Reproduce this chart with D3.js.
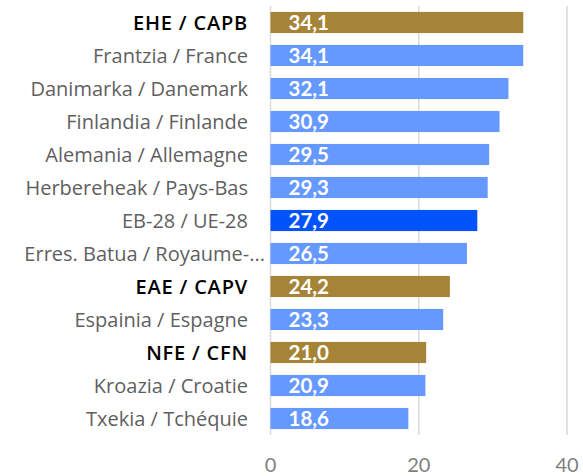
<!DOCTYPE html>
<html><head><meta charset="utf-8">
<script src="https://cdn.jsdelivr.net/npm/d3@7"></script>
<style>body{margin:0;background:#fff}svg{display:block}</style>
</head><body>
<script>
const categories = ["EHE / CAPB","Frantzia / France","Danimarka / Danemark","Finlandia / Finlande","Alemania / Allemagne","Herbereheak / Pays-Bas","EB-28 / UE-28","Erres. Batua / Royaume-...","EAE / CAPV","Espainia / Espagne","NFE / CFN","Kroazia / Croatie","Txekia / Tchéquie"];
const values = [34.1,34.1,32.1,30.9,29.5,29.3,27.9,26.5,24.2,23.3,21.0,20.9,18.6];
const groups = ["basque","country","country","country","country","country","eu","country","basque","country","basque","country","country"];
const ticks = [0,20,40];

const W=583,H=476;
const svg=d3.select("body").append("svg").attr("width",W).attr("height",H);
const x=d3.scaleLinear().domain([0,40]).range([270.5,567]);
const y=d3.scaleBand().domain(categories).range([6,435]).paddingInner(0.36).paddingOuter(0.18);
const color={basque:"#A68437",country:"#6699FF",eu:"#0052FA"};

svg.append("g").selectAll("line").data(ticks).join("line")
  .attr("x1",d=>x(d)).attr("x2",d=>x(d)).attr("y1",6).attr("y2",435)
  .attr("stroke","#d9d9d9").attr("stroke-width",1.5);

svg.append("g").selectAll("rect").data(categories).join("rect")
  .attr("x",x(0)).attr("y",d=>y(d)).attr("height",y.bandwidth())
  .attr("width",(d,i)=>x(values[i])-x(0)).attr("fill",(d,i)=>color[groups[i]]);

svg.append("g").selectAll("text").data(categories).join("text")
  .attr("x",x(0)+18).attr("y",d=>y(d)+y.bandwidth()/2).attr("dy","0.36em")
  .attr("fill","#fff").attr("font-family","Lato, 'Open Sans', sans-serif")
  .attr("font-weight","bold").attr("font-size",20.5)
  .text((d,i)=>values[i].toFixed(1).replace(".",","));

svg.append("g").selectAll("text").data(categories).join("text")
  .attr("x",d=>d.startsWith("Erres")?265:248).attr("y",d=>y(d)+y.bandwidth()/2).attr("dy","0.36em")
  .attr("text-anchor","end")
  .attr("font-family","'Open Sans', sans-serif")
  .attr("font-size",(d,i)=>groups[i]==="basque"?20:20)
  .attr("font-weight",(d,i)=>groups[i]==="basque"?"600":"normal")
  .attr("letter-spacing",(d,i)=>groups[i]==="basque"?0.8:0)
  .attr("fill",(d,i)=>groups[i]==="basque"?"#000":"#5f5f5f")
  .text(d=>d);

svg.append("g").selectAll("text").data(ticks).join("text")
  .attr("x",d=>x(d)).attr("y",465).attr("dy","0.36em").attr("text-anchor","middle")
  .attr("font-family","Lato, sans-serif").attr("font-size",20).attr("fill","#7f7f7f")
  .text(d=>d);
</script>
</body></html>
